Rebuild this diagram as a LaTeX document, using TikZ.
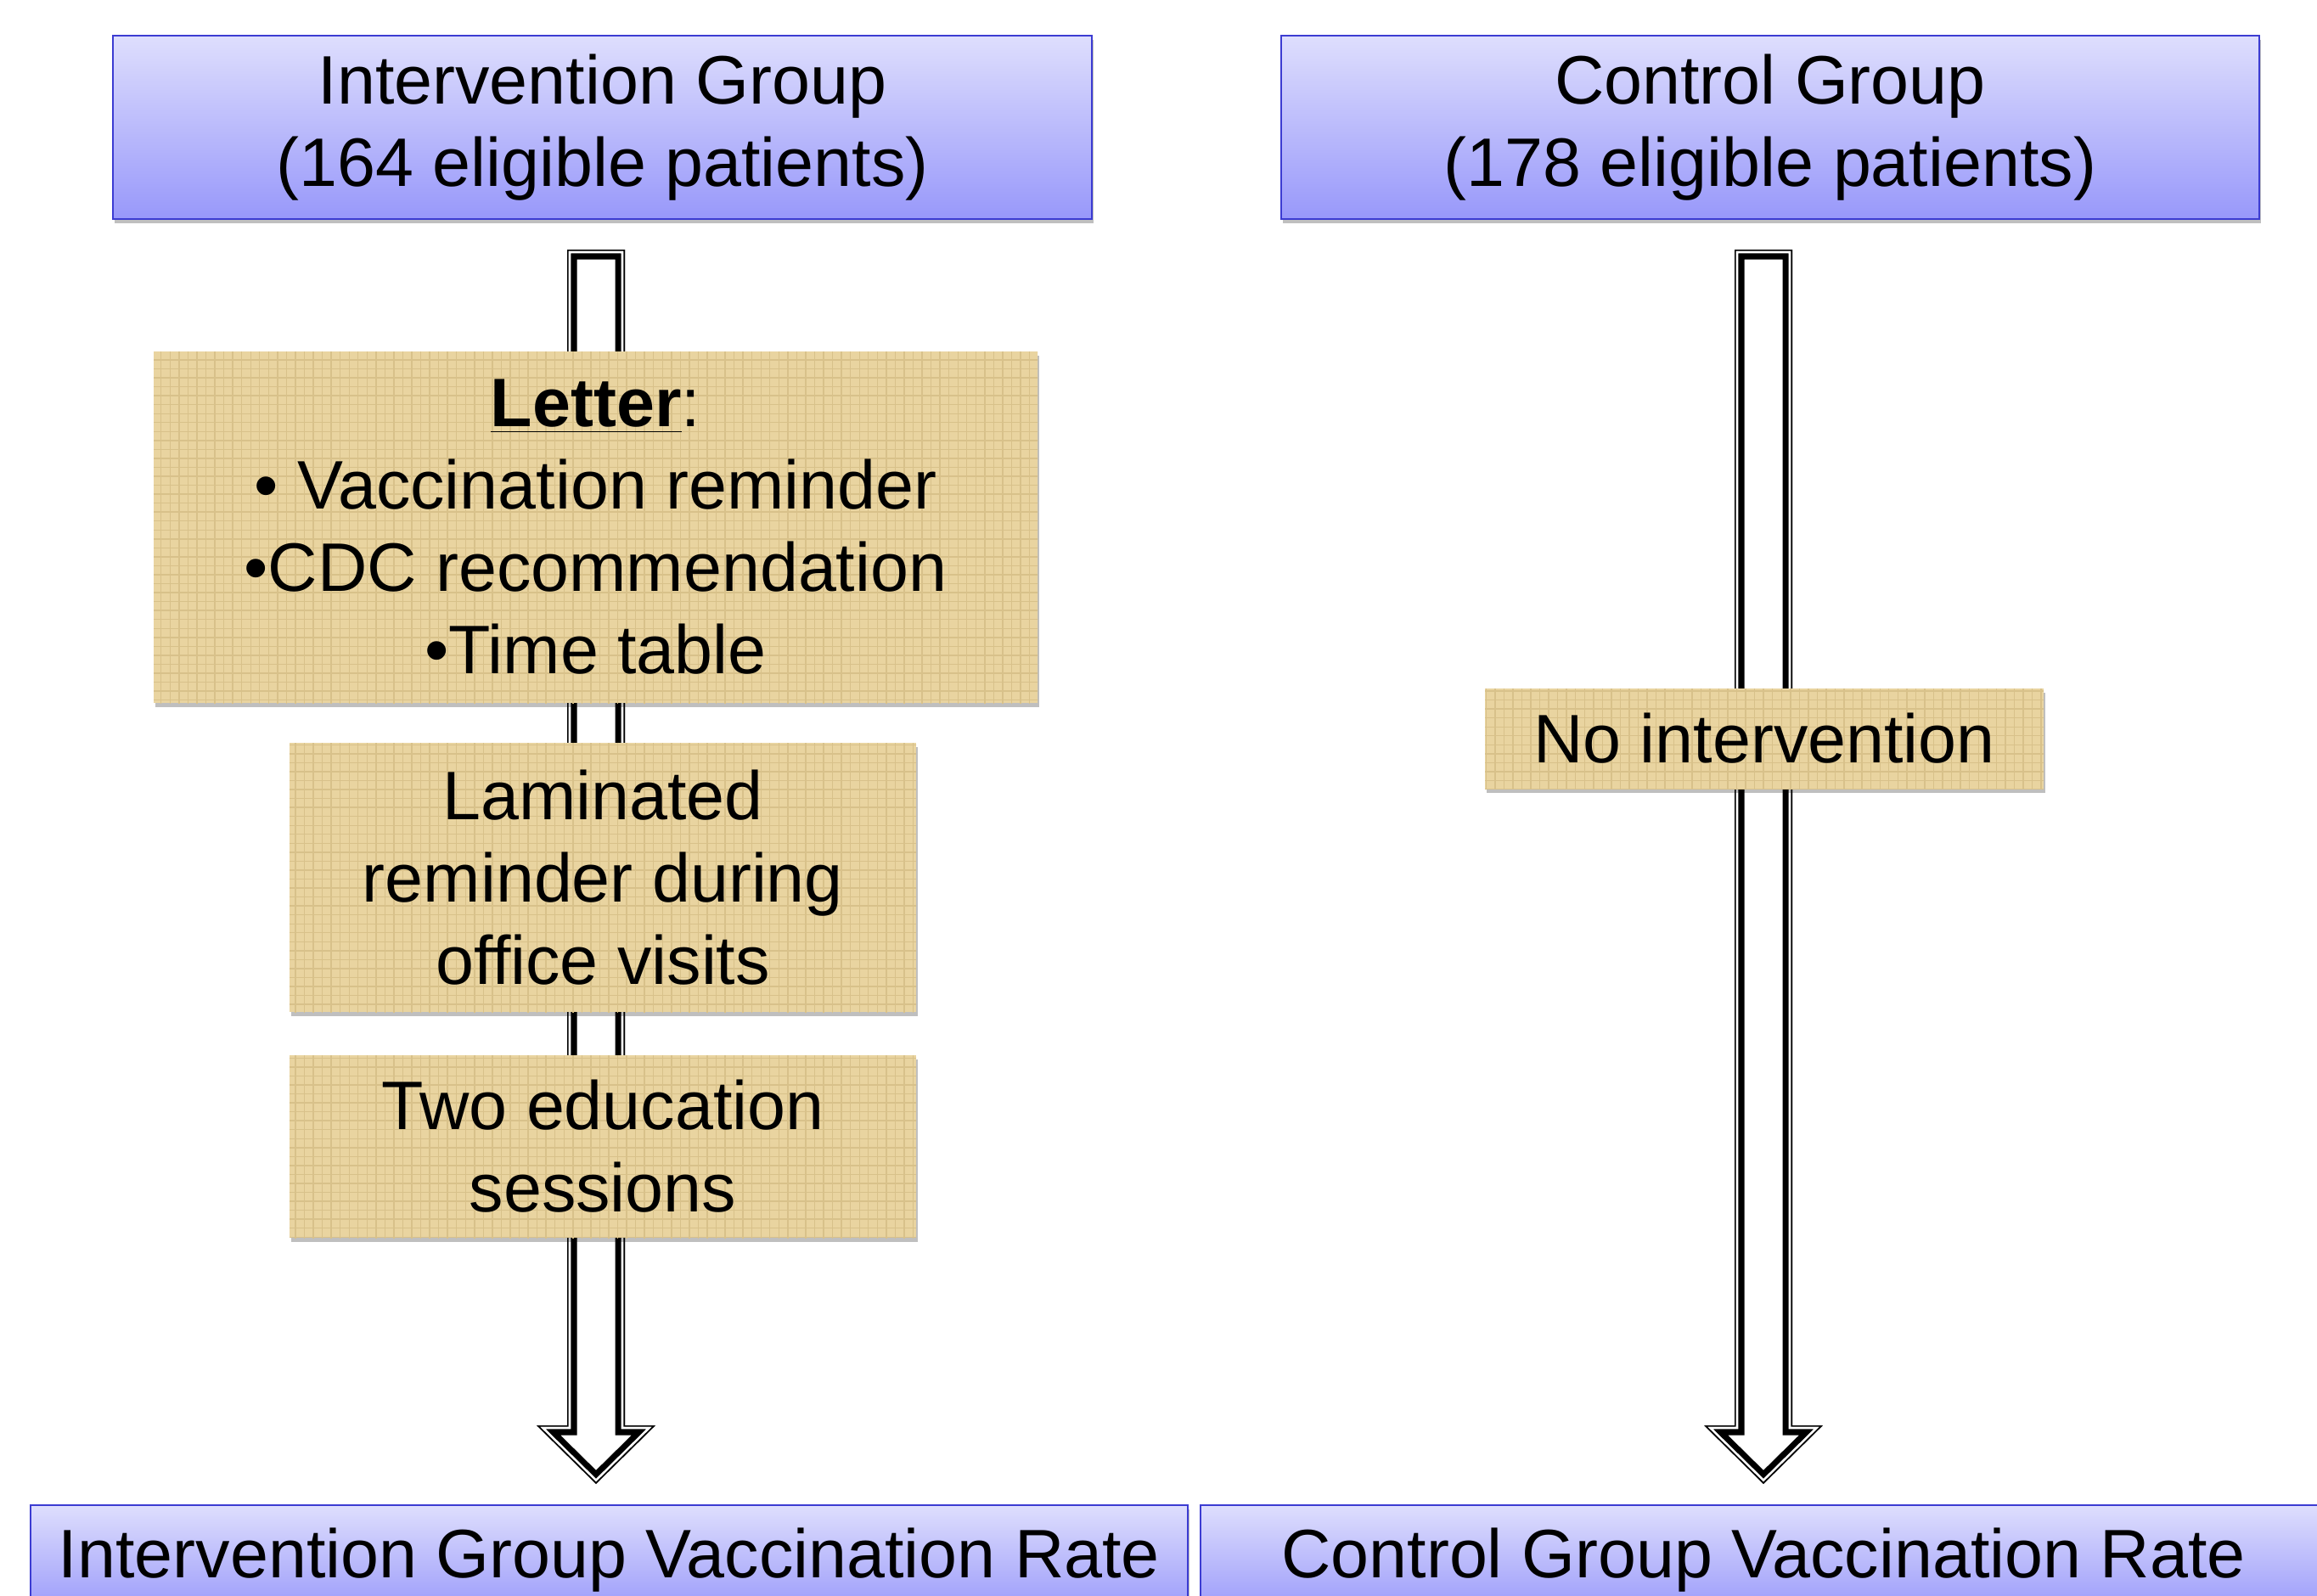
\documentclass[tikz,border=0pt]{standalone}
\usepackage{fontspec}
\setmainfont{Liberation Sans}
\usetikzlibrary{calc,shadows,patterns}

\definecolor{boxtop}{RGB}{222,222,253}
\definecolor{boxbottom}{RGB}{152,152,250}
\definecolor{boxline}{RGB}{60,60,210}
\definecolor{papyrus}{RGB}{233,212,160}
\definecolor{papyrusfibre}{RGB}{216,193,138}

% outline of a block arrow, from the top of its shaft (#1) to its tip (#2)
\newcommand{\arrowpath}[2]{let \p1=(#1), \p2=(#2) in
  (\x1-0.34cm,\y1) -- (\x1+0.34cm,\y1) -- (\x1+0.34cm,\y2+0.69cm) -- (\x1+0.70cm,\y2+0.69cm)
  -- (\x1,\y2) -- (\x1-0.70cm,\y2+0.69cm) -- (\x1-0.34cm,\y2+0.69cm) -- cycle}
\newcommand{\blockarrow}[2]{%
  \begin{scope}
    \clip \arrowpath{#1}{#2};
    \fill[white] \arrowpath{#1}{#2};
    \draw[line join=miter, line width=0.23cm] \arrowpath{#1}{#2};
    \draw[line join=miter, white, line width=0.088cm] \arrowpath{#1}{#2};
    \draw[line join=miter, line width=0.034cm] \arrowpath{#1}{#2};
  \end{scope}}

\begin{document}
\begin{tikzpicture}[
    groupbox/.style={draw=boxline, line width=0.02cm, top color=boxtop, bottom color=boxbottom,
      minimum height=2.16cm, inner sep=0pt, align=center,
      drop shadow={shadow xshift=0.02cm, shadow yshift=-0.05cm, opacity=0.25, fill=black}},
    notebox/.style={fill=papyrus, postaction={pattern=grid, pattern color=papyrusfibre},
      inner sep=0pt, align=center,
      drop shadow={shadow xshift=0.02cm, shadow yshift=-0.05cm, opacity=0.25, fill=black}},
    font=\fontsize{23}{27.6}\selectfont
  ]
  \clip (0,0) rectangle (27.29,-18.79);
  \fill[white] (0,0) rectangle (27.29,-18.79);

  % Groups
  \node[groupbox, minimum width=11.53cm] (igroup) at (7.095,-1.50) {Intervention Group\\(164 eligible patients)};
  \node[groupbox, minimum width=11.52cm] (cgroup) at (20.85,-1.50) {Control Group\\(178 eligible patients)};

  % Vaccination rates
  \node[groupbox, minimum width=13.63cm, minimum height=1.30cm] (irate) at (7.175,-18.38) {Intervention Group Vaccination Rate};
  \node[groupbox, minimum width=13.26cm, minimum height=1.30cm] (crate) at (20.77,-18.38) {Control Group Vaccination Rate};

  % Arrows
  \coordinate (iarrowtop) at ($(igroup.south)+(-0.075,-0.35)$);
  \coordinate (iarrowtip) at ($(irate.north)+(-0.155,0.24)$);
  \coordinate (carrowtop) at ($(cgroup.south)+(-0.08,-0.35)$);
  \coordinate (carrowtip) at ($(crate.north)+(0,0.24)$);
  \blockarrow{iarrowtop}{iarrowtip}
  \blockarrow{carrowtop}{carrowtip}

  % Interventions
  \node[notebox, minimum width=10.41cm, minimum height=4.14cm] (letter) at (7.015,-6.21)
    {\underline{\textbf{Letter}}:\\• Vaccination reminder\\•CDC recommendation\\•Time table};
  \node[notebox, minimum width=7.38cm, minimum height=3.17cm] (laminated) at (7.10,-10.335)
    {Laminated\\reminder during\\office visits};
  \node[notebox, minimum width=7.38cm, minimum height=2.15cm] (education) at (7.10,-13.505)
    {Two education\\sessions};
  \node[notebox, minimum width=6.58cm, minimum height=1.18cm] (nointervention) at (20.78,-8.70)
    {No intervention};
\end{tikzpicture}
\end{document}
